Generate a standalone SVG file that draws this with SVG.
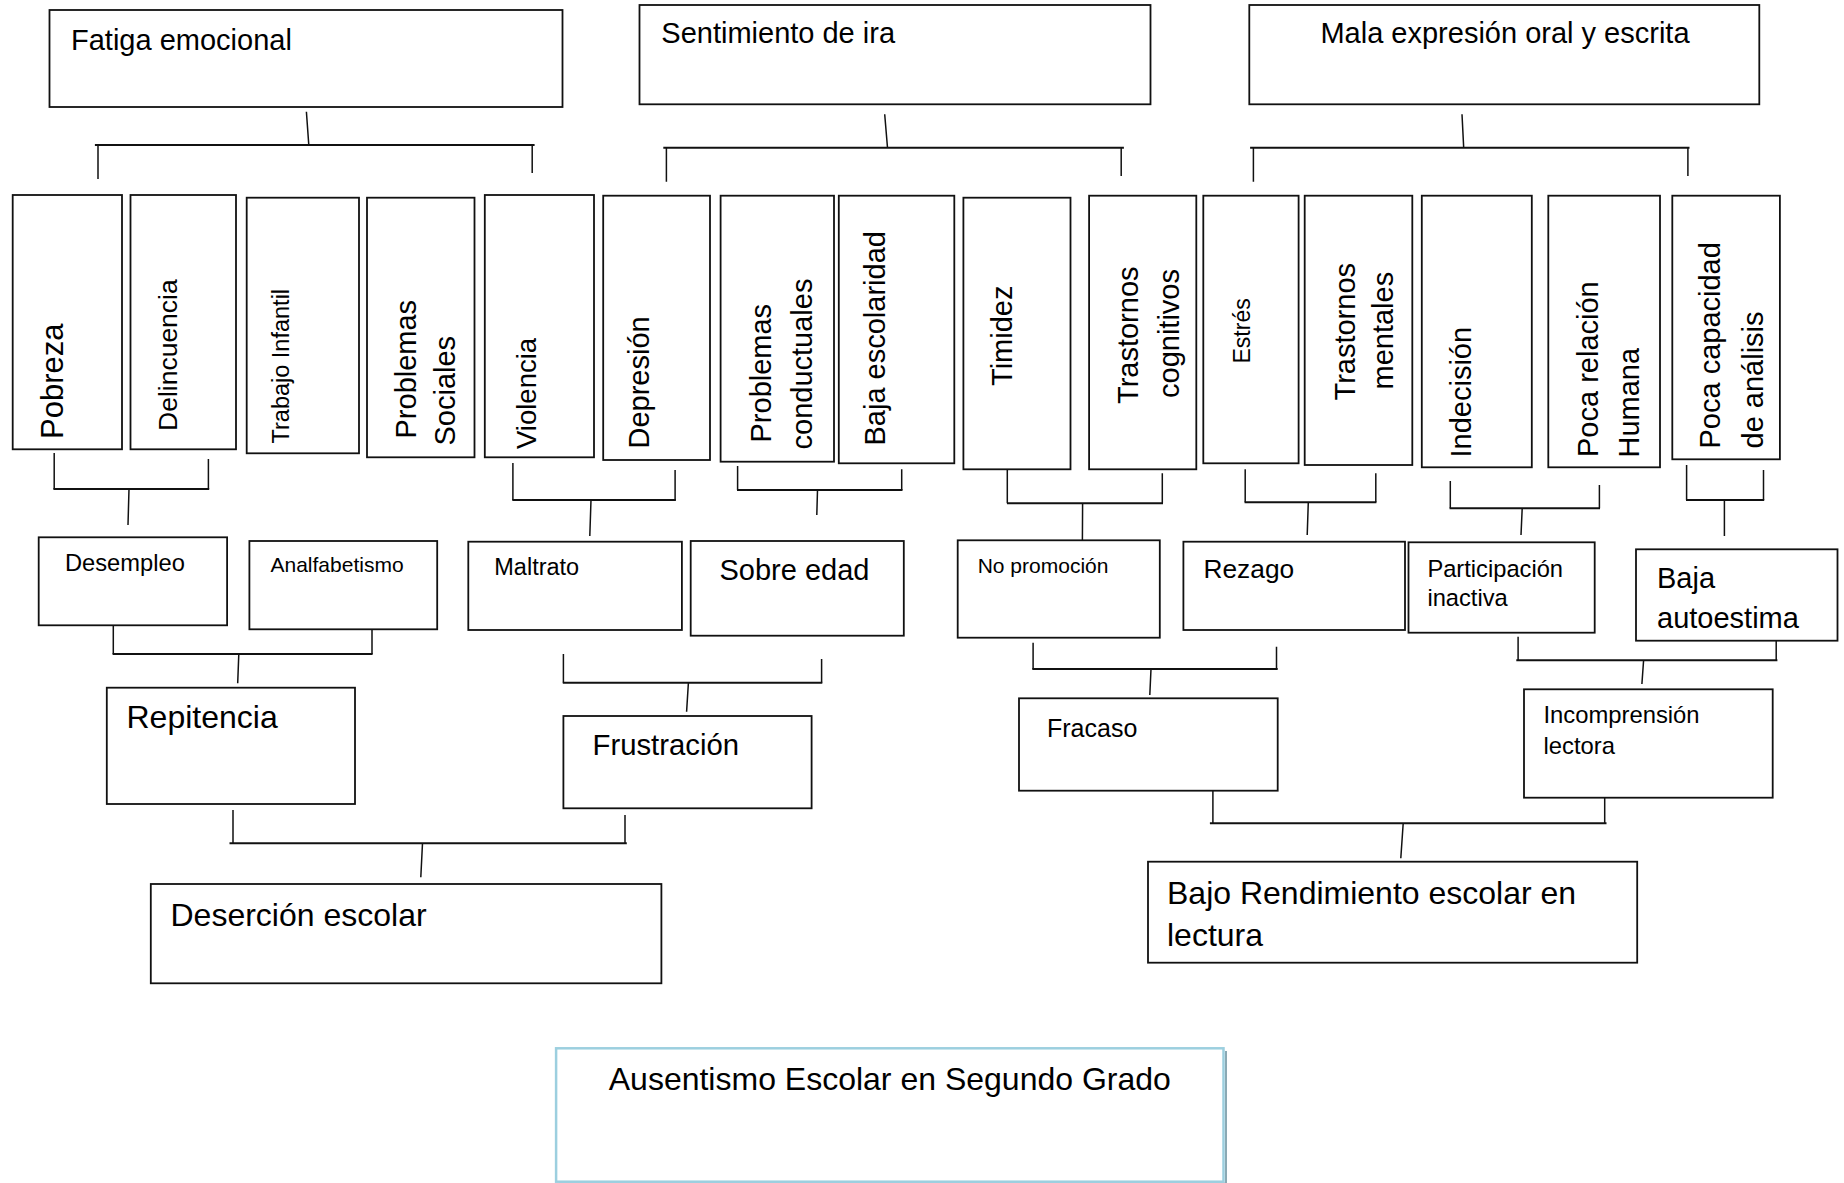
<svg xmlns="http://www.w3.org/2000/svg" width="1844" height="1183" viewBox="0 0 1844 1183">
<style>
.box{fill:#fff;stroke:#111;stroke-width:1.8}
.t{font-family:"Liberation Sans",Arial,sans-serif;fill:#000}
.c{stroke:#111;stroke-width:1.5;fill:none}
.bar{stroke:#111;stroke-width:2;fill:none}
</style>
<rect width="1844" height="1183" fill="#fff"/>

<g id="connectors">
  <path class="c" d="M306.4 111.7 L308.8 145 M98 145 V179 M532.2 145 V173"/>
  <path class="bar" d="M94.9 145 H534.6"/>
  <path class="c" d="M884.7 114.3 L887.5 147.7 M666.4 147.7 V181.7 M1121.2 147.7 V176"/>
  <path class="bar" d="M663.3 147.7 H1123.9"/>
  <path class="c" d="M1462 114.3 L1463.7 147.7 M1253.4 147.7 V181.7 M1687.9 147.7 V176"/>
  <path class="bar" d="M1250.1 147.7 H1689.5"/>
  <path class="c" d="M54.2 453 V489 M208.4 459 V489 M129 489 L128 525"/>
  <path class="bar" d="M53.4 489 H209.2"/>
  <path class="c" d="M512.9 463 V500 M675.1 470 V500 M591 500 L589.8 536"/>
  <path class="bar" d="M512.3 500 H675.9"/>
  <path class="c" d="M737.6 466 V490 M901.7 469.3 V490 M817.5 490 L816.8 515"/>
  <path class="bar" d="M737 490 H902.5"/>
  <path class="c" d="M1007.3 468.3 V503.3 M1162.3 473.3 V503.3 M1082.6 503.3 L1082.4 540"/>
  <path class="bar" d="M1007 503.3 H1163"/>
  <path class="c" d="M1245.2 469.3 V502.3 M1375.8 473.3 V502.3 M1308.3 502.3 L1307.2 535"/>
  <path class="bar" d="M1244.6 502.3 H1376.4"/>
  <path class="c" d="M1450.3 481 V508.3 M1599.4 485 V508.3 M1522.2 508.3 L1521 535"/>
  <path class="bar" d="M1449.6 508.3 H1600"/>
  <path class="c" d="M1686.6 465 V500 M1763.5 470 V500 M1724.4 500 V536"/>
  <path class="bar" d="M1686 500 H1764.2"/>
  <path class="c" d="M113.3 625.7 V654 M372 629 V654 M238.8 654 L237.7 683.3"/>
  <path class="bar" d="M112.6 654 H372.6"/>
  <path class="c" d="M563.4 654 V682.7 M821.6 659 V682.7 M688.4 682.7 L686.6 711.7"/>
  <path class="bar" d="M562.8 682.7 H822.3"/>
  <path class="c" d="M1033.1 642.7 V669 M1276.5 646.7 V669 M1151 669 L1149.8 695"/>
  <path class="bar" d="M1032.3 669 H1277.7"/>
  <path class="c" d="M1518.1 636.7 V660.3 M1776.2 641 V660.3 M1643.6 660.3 L1641.9 684"/>
  <path class="bar" d="M1516.3 660.3 H1777.4"/>
  <path class="c" d="M233 810 V843.3 M625 815 V843.3 M422.5 843.3 L420.8 877.3"/>
  <path class="bar" d="M229.5 843.3 H626.8"/>
  <path class="c" d="M1212.9 790.7 V823.3 M1604.7 796 V823.3 M1403.2 823.3 L1400.8 858.3"/>
  <path class="bar" d="M1209.9 823.3 H1606.5"/>
</g>

<g id="fatiga"><rect class="box" x="49.5" y="10" width="513" height="97"/><text class="t" x="71" y="50" font-size="29">Fatiga emocional</text></g>
<g id="ira"><rect class="box" x="639.5" y="5" width="511" height="99.3"/><text class="t" x="661.3" y="43" font-size="29">Sentimiento de ira</text></g>
<g id="mala"><rect class="box" x="1249.3" y="5" width="510" height="99.3"/><text class="t" x="1505" y="43" font-size="29" text-anchor="middle">Mala expresión oral y escrita</text></g>

<g id="pobreza"><rect class="box" x="12.7" y="195" width="109.3" height="254.3"/><text class="t" font-size="31" transform="translate(62.5 439) rotate(-90)">Pobreza</text></g>
<g id="delincuencia"><rect class="box" x="130.5" y="195" width="105.5" height="254.3"/><text class="t" font-size="26.5" transform="translate(177 431) rotate(-90)">Delincuencia</text></g>
<g id="trabajo"><rect class="box" x="246.7" y="197.7" width="112.3" height="255.6"/><text class="t" font-size="23.5" transform="translate(288.5 443.5) rotate(-90)">Trabajo Infantil</text></g>
<g id="problemas-sociales"><rect class="box" x="367" y="197.7" width="107.5" height="259.6"/><text class="t" font-size="29" transform="translate(415.5 438.5) rotate(-90)">Problemas</text><text class="t" font-size="29" transform="translate(455 445.5) rotate(-90)">Sociales</text></g>
<g id="violencia"><rect class="box" x="484.8" y="195" width="109.2" height="262.3"/><text class="t" font-size="27.5" transform="translate(536 449) rotate(-90)">Violencia</text></g>
<g id="depresion"><rect class="box" x="603.2" y="195.7" width="106.8" height="264.3"/><text class="t" font-size="29" transform="translate(649 448.5) rotate(-90)">Depresión</text></g>
<g id="problemas-conductuales"><rect class="box" x="720.6" y="195.7" width="113.4" height="266"/><text class="t" font-size="29" transform="translate(770.8 442.5) rotate(-90)">Problemas</text><text class="t" font-size="29" transform="translate(811.5 449.5) rotate(-90)">conductuales</text></g>
<g id="baja-escolaridad"><rect class="box" x="838.8" y="195.7" width="115.5" height="267.6"/><text class="t" font-size="29" transform="translate(885 445.5) rotate(-90)">Baja escolaridad</text></g>
<g id="timidez"><rect class="box" x="963.4" y="197.7" width="107.1" height="271.6"/><text class="t" font-size="29" transform="translate(1012.4 386) rotate(-90)">Timidez</text></g>
<g id="trastornos-cognitivos"><rect class="box" x="1089.1" y="195.7" width="107.2" height="273.6"/><text class="t" font-size="29" transform="translate(1138 404) rotate(-90)">Trastornos</text><text class="t" font-size="29" transform="translate(1179 398) rotate(-90)">cognitivos</text></g>
<g id="estres"><rect class="box" x="1203.3" y="195.7" width="95.3" height="267.6"/><text class="t" font-size="23" transform="translate(1249.5 363.5) rotate(-90)">Estrés</text></g>
<g id="trastornos-mentales"><rect class="box" x="1304.7" y="195.7" width="107.6" height="269.3"/><text class="t" font-size="29" transform="translate(1355.2 400.5) rotate(-90)">Trastornos</text><text class="t" font-size="29" transform="translate(1393 389.5) rotate(-90)">mentales</text></g>
<g id="indecision"><rect class="box" x="1421.8" y="195.7" width="110" height="271.6"/><text class="t" font-size="29" transform="translate(1471 457.5) rotate(-90)">Indecisión</text></g>
<g id="poca-relacion"><rect class="box" x="1548.3" y="195.7" width="111.7" height="271.6"/><text class="t" font-size="29" transform="translate(1598.4 457) rotate(-90)">Poca relación</text><text class="t" font-size="29" transform="translate(1639.4 457.5) rotate(-90)">Humana</text></g>
<g id="poca-capacidad"><rect class="box" x="1672.3" y="195.7" width="107.6" height="263.6"/><text class="t" font-size="29" transform="translate(1720 448.5) rotate(-90)">Poca capacidad</text><text class="t" font-size="29" transform="translate(1762.5 448.5) rotate(-90)">de análisis</text></g>

<g id="desempleo"><rect class="box" x="38.7" y="537.3" width="188.4" height="88"/><text class="t" x="65" y="570.7" font-size="23.7">Desempleo</text></g>
<g id="analfabetismo"><rect class="box" x="249.4" y="541" width="187.8" height="88.3"/><text class="t" x="270.5" y="571.7" font-size="21">Analfabetismo</text></g>
<g id="maltrato"><rect class="box" x="468.3" y="541.7" width="213.6" height="88.3"/><text class="t" x="494.3" y="575" font-size="23.5">Maltrato</text></g>
<g id="sobre-edad"><rect class="box" x="690.7" y="541" width="213.1" height="94.7"/><text class="t" x="719.5" y="580" font-size="29">Sobre edad</text></g>
<g id="no-promocion"><rect class="box" x="957.7" y="540.3" width="202.1" height="97.4"/><text class="t" x="977.7" y="572.7" font-size="21">No promoción</text></g>
<g id="rezago"><rect class="box" x="1183.4" y="541.7" width="221.6" height="88.3"/><text class="t" x="1203.5" y="577.7" font-size="26.3">Rezago</text></g>
<g id="participacion"><rect class="box" x="1408.5" y="542.3" width="186.2" height="90.4"/><text class="t" x="1427.4" y="576.7" font-size="23.7">Participación</text><text class="t" x="1427.4" y="605.7" font-size="23.7">inactiva</text></g>
<g id="baja-autoestima"><rect class="box" x="1636" y="549.3" width="201.5" height="91.4"/><text class="t" x="1657" y="588.3" font-size="29">Baja</text><text class="t" x="1657" y="627.7" font-size="29">autoestima</text></g>

<g id="repitencia"><rect class="box" x="106.8" y="687.7" width="248.2" height="116.3"/><text class="t" x="126.5" y="728.3" font-size="32">Repitencia</text></g>
<g id="frustracion"><rect class="box" x="563.4" y="716" width="248.2" height="92.3"/><text class="t" x="592.5" y="755" font-size="29.3">Frustración</text></g>
<g id="fracaso"><rect class="box" x="1019" y="698.3" width="258.7" height="92.4"/><text class="t" x="1047" y="736.7" font-size="25">Fracaso</text></g>
<g id="incomprension"><rect class="box" x="1524" y="689.3" width="248.7" height="108.4"/><text class="t" x="1543.5" y="722.7" font-size="23.8">Incomprensión</text><text class="t" x="1543.5" y="754" font-size="23.8">lectora</text></g>

<g id="desercion"><rect class="box" x="150.8" y="884" width="510.6" height="99.3"/><text class="t" x="170.5" y="925.5" font-size="32">Deserción escolar</text></g>
<g id="bajo-rendimiento"><rect class="box" x="1148" y="861.7" width="489.2" height="101"/><text class="t" x="1167" y="903.5" font-size="32">Bajo Rendimiento escolar en</text><text class="t" x="1167" y="946" font-size="32">lectura</text></g>

<g id="ausentismo">
  <path d="M1226 1051 V1183 M559 1183.5 H1226" stroke="#8aa9b4" stroke-width="2" fill="none"/>
  <rect x="556.1" y="1048.3" width="667.4" height="133.4" fill="#fff" stroke="#9ccfdf" stroke-width="2.5"/>
  <text class="t" x="889.8" y="1090.3" font-size="32" text-anchor="middle">Ausentismo Escolar en Segundo Grado</text>
</g>
</svg>
